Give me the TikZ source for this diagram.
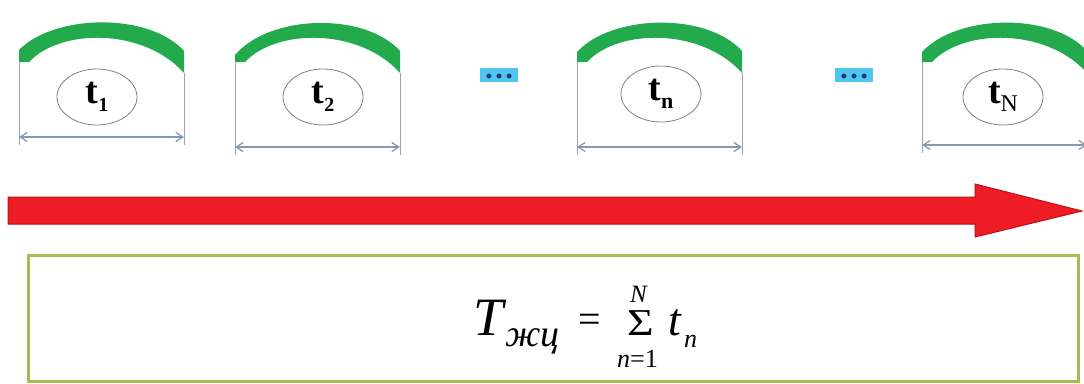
\documentclass[tikz,border=0pt]{standalone}
\usepackage{fontspec}
\setmainfont{Liberation Serif}
\usetikzlibrary{arrows.meta,shapes.geometric}
\definecolor{arcgreen}{HTML}{22AA4C}
\definecolor{dimgray}{HTML}{8799AE}
\definecolor{vgray}{HTML}{9AA2AC}
\definecolor{ellgray}{HTML}{808080}
\definecolor{redfill}{HTML}{EE1C24}
\definecolor{reddraw}{HTML}{B8141C}
\definecolor{boxgreen}{HTML}{A9BA55}
\definecolor{dotblue}{HTML}{4FC6F2}
\definecolor{dotdark}{HTML}{1E3B66}
\newcommand{\fs}[1]{\fontsize{#1}{#1}\selectfont}
\tikzset{
  ellnode/.style={ellipse, draw=ellgray, line width=0.8pt, minimum width=80pt, minimum height=56pt, inner sep=0pt},
  dimline/.style={draw=dimgray, line width=1.3pt, {Straight Barb[length=7pt,width=9pt]}-{Straight Barb[length=7pt,width=9pt]}},
  sideline/.style={draw=vgray, line width=1pt},
  dotbox/.style={fill=dotblue, minimum width=38pt, minimum height=14pt, inner sep=0pt},
  dottext/.style={text=dotdark, font=\fs{30}\bfseries, inner sep=0pt, anchor=base},
  formula/.style={inner sep=0pt, anchor=base west}
}
% name, x0, x1, ellipse x, ellipse y, dim y, label, left top y
\newcommand{\segunit}[8]{%
  \fill[arcgreen] (#2,#8) .. controls (#2+35,14) and (#3-35,12) .. (#3,51)
     -- (#3,73) .. controls (#3-40,28) and (#2+42,28) .. (#2+10,62) -- (#2,62) -- cycle;
  \coordinate (#1gl) at (#2,62);
  \coordinate (#1gr) at (#3,73);
  \coordinate (#1bl) at (#2,#6+8);
  \coordinate (#1br) at (#3,#6+8);
  \coordinate (#1dl) at (#2,#6);
  \coordinate (#1dr) at (#3,#6);
  \draw[sideline] (#1gl) -- (#1bl);
  \draw[sideline] (#1gr) -- (#1br);
  \draw[dimline] (#1dl) -- (#1dr);
  \node[ellnode] (#1e) at (#4,#5) {#7};
}
\begin{document}
\begin{tikzpicture}[x=1pt,y=-1pt]
\clip (0,0) rectangle (1084,383);
\fill[white] (0,0) rectangle (1084,383);

\segunit{a}{19}{184}{97}{97}{137}{\fs{38}\bfseries t\raisebox{-8pt}{\fs{20}1}}{50}
\segunit{b}{235}{400}{323}{97}{147}{\fs{38}\bfseries t\raisebox{-8pt}{\fs{20}2}}{55}
\segunit{c}{577}{742}{661}{94}{147}{\fs{38}\bfseries t\raisebox{-8pt}{\fs{22}n}}{52}
\segunit{d}{922}{1087}{1003}{97}{145}{\fs{38}\bfseries t\raisebox{-8pt}{\fs{24}\mdseries N}}{52}

% ellipsis boxes
\node[dotbox] (dots1) at (499,75) {};
\node[dottext] (dt1) at ([yshift=-3pt]dots1.center) {\ldots};
\node[dotbox] (dots2) at (854,75) {};
\node[dottext] (dt2) at ([yshift=-3pt]dots2.center) {\ldots};

% red arrow
\filldraw[fill=redfill, draw=reddraw, line width=1pt]
  (8,197) -- (975,197) -- (975,184) -- (1082,211) -- (975,237) -- (975,224) -- (8,224) -- cycle;

% formula box
\node[draw=boxgreen, line width=3pt, minimum width=1050pt, minimum height=126pt, inner sep=0pt] (box) at (553,318) {};

\node[formula] (fT) at (473,335) {\fs{54}\itshape T};
\node[formula] (fsub) at (505,346) {\fs{38}\itshape жц};
\node[formula] (feq) at (578,332) {\fs{40}=};
\node[formula, text height=26pt, text depth=0pt] (fsig) at (627,335) {\fs{38}\scalebox{1.2}[1]{Σ}};
\node[formula, text height=17pt, text depth=0pt] (fN) at (630,302) {\fs{25}\itshape N};
\node[formula, text height=17pt] (flow) at (617,367) {\fs{26}{\itshape n}=1};
\node[formula] (ft) at (668,335) {\fs{46}\itshape t};
\node[formula] (fn) at (684,347) {\fs{26}\itshape n};
\end{tikzpicture}
\end{document}
